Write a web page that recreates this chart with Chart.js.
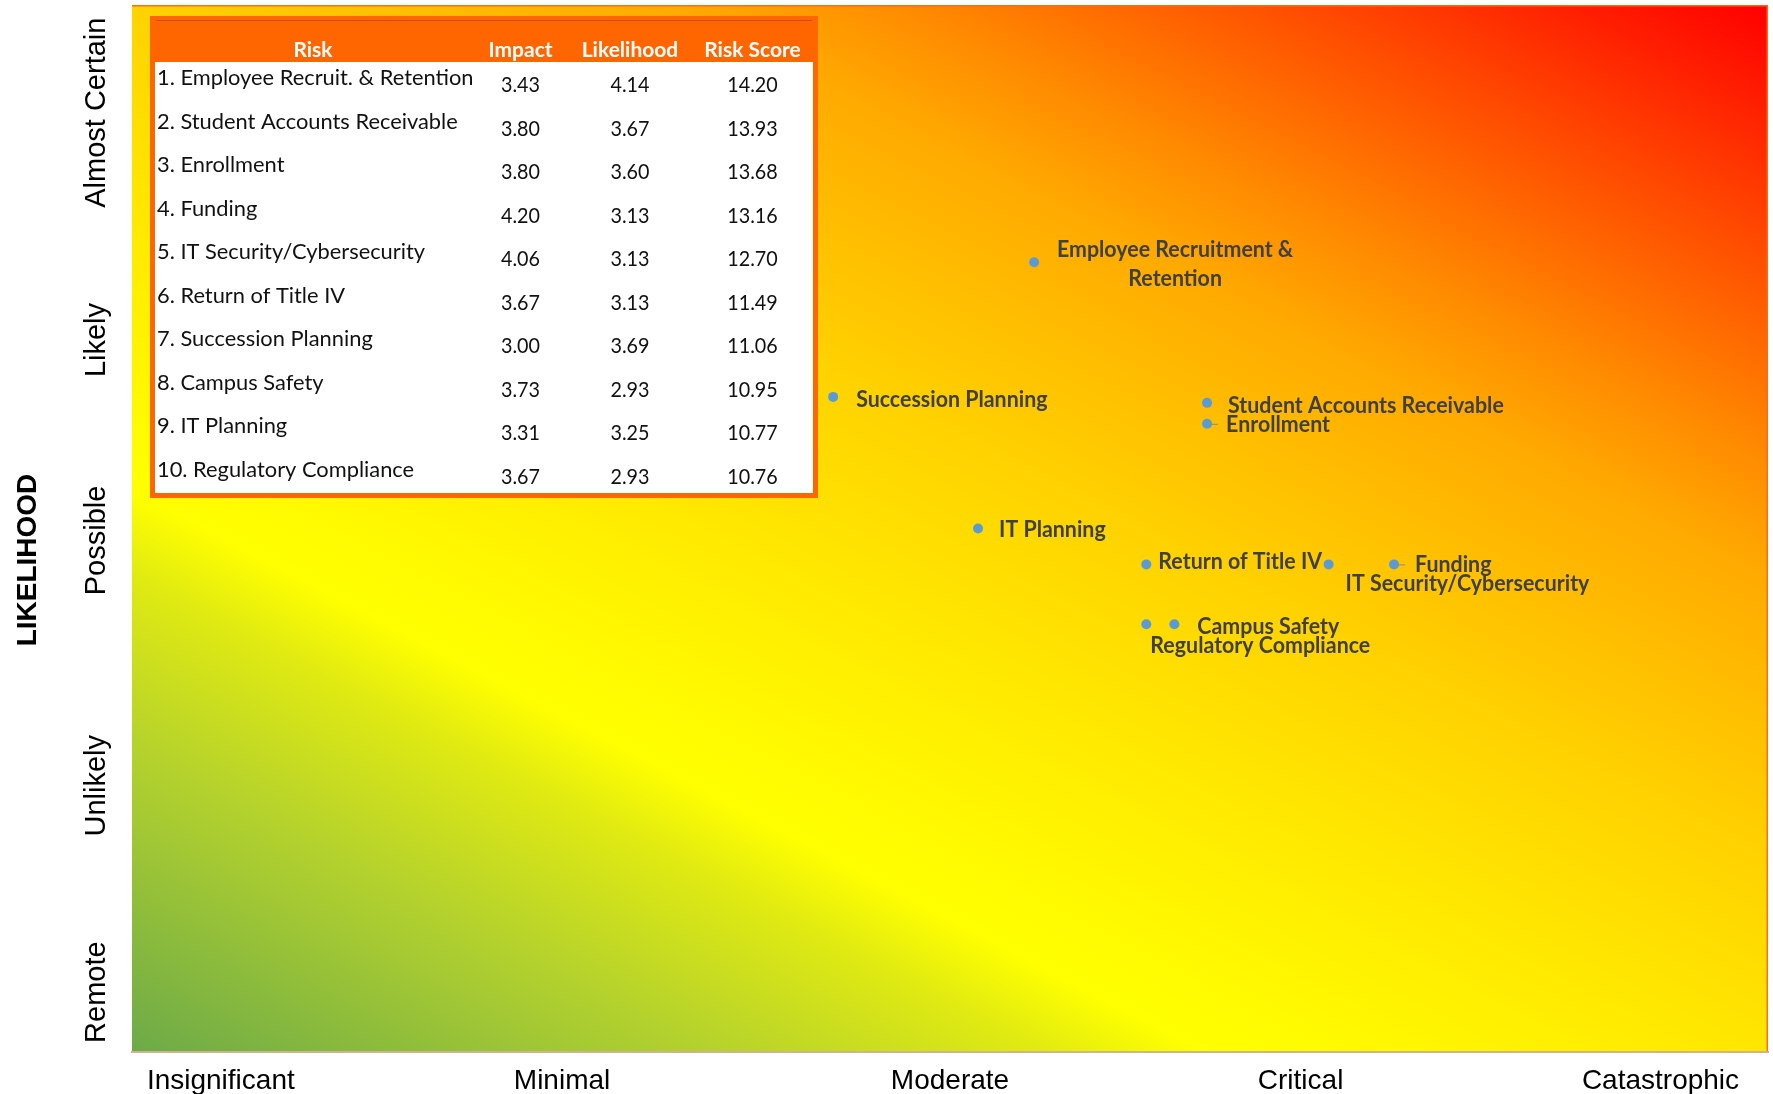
<!DOCTYPE html>
<html><head><meta charset="utf-8">
<script src="https://cdn.jsdelivr.net/npm/chart.js@4"></script>
<style>html,body{margin:0;padding:0;background:#fff;}#wrap{width:1773px;height:1094px;position:relative;}</style>
</head><body><div id="wrap"><canvas id="c" width="1773" height="1094"></canvas></div>
<script>
// ---------- data ----------
const impactTicks = [1.69, 2.42, 3.25, 4.0, 4.77];
const impactTickLabels = ['Insignificant', 'Minimal', 'Moderate', 'Critical', 'Catastrophic'];
const likelihoodTicks = [1.70, 2.39, 3.21, 3.88, 4.64];
const likelihoodTickLabels = ['Remote', 'Unlikely', 'Possible', 'Likely', 'Almost Certain'];
const tableHeaders = ['Risk', 'Impact', 'Likelihood', 'Risk Score'];
const riskNames = ['Employee Recruit. & Retention', 'Student Accounts Receivable', 'Enrollment', 'Funding',
  'IT Security/Cybersecurity', 'Return of Title IV', 'Succession Planning', 'Campus Safety', 'IT Planning',
  'Regulatory Compliance'];
const pointLabels = ['Employee Recruitment &\nRetention', 'Student Accounts Receivable', 'Enrollment', 'Funding',
  'IT Security/Cybersecurity', 'Return of Title IV', 'Succession Planning', 'Campus Safety', 'IT Planning',
  'Regulatory Compliance'];
const impact = [3.43, 3.80, 3.80, 4.20, 4.06, 3.67, 3.00, 3.73, 3.31, 3.67];
const likelihood = [4.14, 3.67, 3.60, 3.13, 3.13, 3.13, 3.69, 2.93, 3.25, 2.93];
const riskScore = [14.20, 13.93, 13.68, 13.16, 12.70, 11.49, 11.06, 10.95, 10.77, 10.76];
const axisMin = 1.5, axisMax = 5;

// ---------- styles ----------
const labelPlacement = [
  {dx: 141, dy: -13, align: 'center'},
  {dx: 21, dy: 3},
  {dx: 19, dy: 1, leader: true},
  {dx: 21, dy: 0, leader: true},
  {dx: 17, dy: 19},
  {dx: 12, dy: -3},
  {dx: 23, dy: 3},
  {dx: 23, dy: 2},
  {dx: 21, dy: 1},
  {dx: 4, dy: 21}
];
const LABEL_FONT = 'bold 23px Lato';
const LABEL_SX = 0.93;
const BODY_FONT = '21px Lato';
const BODY_SX = 1.04;
const NUM_SX = 0.94;
const HEAD_FONT = 'bold 21px Lato';
const HEAD_SX = 1.0;
const ORANGE = '#FF6600';
const gradientStops = [
  [0, 'rgb(108,170,72)'], [0.164, 'rgb(182,211,44)'], [0.25, 'rgb(224,234,18)'],
  [0.295, 'rgb(255,255,0)'], [0.34, 'rgb(255,249,0)'], [0.44, 'rgb(255,232,0)'],
  [0.5, 'rgb(255,220,0)'], [0.55, 'rgb(255,210,0)'], [0.62, 'rgb(255,192,0)'],
  [0.7, 'rgb(255,170,0)'], [0.76, 'rgb(255,140,0)'], [0.82, 'rgb(255,105,0)'],
  [0.9, 'rgb(255,58,0)'], [0.96, 'rgb(255,22,0)'], [1, 'rgb(255,0,0)']
];

function drawScaled(ctx, text, x, y, sx) {
  ctx.save();
  ctx.translate(x, y);
  ctx.scale(sx, 1);
  ctx.fillText(text, 0, 0);
  ctx.restore();
}

const backgroundPlugin = {
  id: 'bgGradient',
  beforeDraw(chart) {
    const {ctx, chartArea: a} = chart;
    ctx.save();
    ctx.translate(a.left, a.bottom);
    ctx.scale(a.right - a.left, -(a.bottom - a.top));
    const g = ctx.createLinearGradient(0, 0, 0.891, 1.089);
    gradientStops.forEach(s => g.addColorStop(s[0], s[1]));
    ctx.fillStyle = g;
    ctx.fillRect(0, 0, 1, 1);
    ctx.restore();
    ctx.save();
    ctx.strokeStyle = 'rgba(255,105,20,0.95)';
    ctx.lineWidth = 1.5;
    ctx.beginPath();
    ctx.moveTo(a.left, a.top + 0.75);
    ctx.lineTo(a.right - 0.75, a.top + 0.75);
    ctx.lineTo(a.right - 0.75, a.bottom);
    ctx.stroke();
    ctx.restore();
  }
};

const labelPlugin = {
  id: 'pointLabels',
  afterDatasetsDraw(chart) {
    const {ctx} = chart;
    const meta = chart.getDatasetMeta(0);
    ctx.save();
    ctx.font = LABEL_FONT;
    ctx.fillStyle = '#404040';
    ctx.textBaseline = 'middle';
    meta.data.forEach((pt, i) => {
      const p = labelPlacement[i];
      const lines = pointLabels[i].split('\n');
      ctx.textAlign = p.align || 'left';
      lines.forEach((ln, k) => drawScaled(ctx, ln, pt.x + p.dx, pt.y + p.dy + k * 29, LABEL_SX));
      if (p.leader) {
        ctx.strokeStyle = '#8a8a8a';
        ctx.lineWidth = 1;
        ctx.beginPath();
        ctx.moveTo(pt.x + 3, pt.y + 0.5);
        ctx.lineTo(pt.x + 11, pt.y + 0.5);
        ctx.stroke();
      }
    });
    ctx.restore();
  }
};

const overlayPlugin = {
  id: 'overlay',
  afterDraw(chart) {
    const {ctx} = chart;
    const ys = chart.scales.y;
    // y tick labels (rotated)
    ctx.save();
    ctx.fillStyle = '#000';
    ctx.font = '29px "Liberation Sans", Arial, sans-serif';
    ctx.textAlign = 'center';
    ctx.textBaseline = 'alphabetic';
    likelihoodTicks.forEach((v, i) => {
      ctx.save();
      ctx.translate(105, ys.getPixelForValue(v));
      ctx.rotate(-Math.PI / 2);
      ctx.fillText(likelihoodTickLabels[i], 0, 0);
      ctx.restore();
    });
    // y axis title
    ctx.font = 'bold 28px "Liberation Sans", Arial, sans-serif';
    ctx.translate(36, 560);
    ctx.rotate(-Math.PI / 2);
    ctx.fillText('LIKELIHOOD', 0, 0);
    ctx.restore();

    // table
    const tx = 150, ty = 16, tw = 668, th = 482;
    ctx.save();
    ctx.fillStyle = '#fff';
    ctx.fillRect(tx, ty, tw, th);
    ctx.fillStyle = ORANGE;
    ctx.fillRect(tx, ty, tw, 46);
    ctx.strokeStyle = ORANGE;
    ctx.lineWidth = 5;
    ctx.strokeRect(tx + 2.5, ty + 2.5, tw - 5, th - 5);
    ctx.strokeStyle = 'rgba(160,60,0,0.55)';
    ctx.lineWidth = 1;
    ctx.beginPath();
    ctx.moveTo(tx + 6, ty + 4.5);
    ctx.lineTo(tx + tw - 6, ty + 4.5);
    ctx.stroke();
    const colX = [313, 520.5, 630, 752.5];
    ctx.fillStyle = '#fff';
    ctx.font = HEAD_FONT;
    ctx.textAlign = 'center';
    ctx.textBaseline = 'alphabetic';
    tableHeaders.forEach((h, i) => drawScaled(ctx, h, colX[i], 56.5, HEAD_SX));
    ctx.fillStyle = '#111';
    ctx.font = BODY_FONT;
    for (let i = 0; i < riskNames.length; i++) {
      const rowY = 85 + i * 43.5;
      ctx.textAlign = 'left';
      drawScaled(ctx, (i + 1) + '. ' + riskNames[i], 157, rowY, BODY_SX);
      ctx.textAlign = 'center';
      drawScaled(ctx, impact[i].toFixed(2), colX[1], rowY + 7.3, NUM_SX);
      drawScaled(ctx, likelihood[i].toFixed(2), colX[2], rowY + 7.3, NUM_SX);
      drawScaled(ctx, riskScore[i].toFixed(2), colX[3], rowY + 7.3, NUM_SX);
    }
    ctx.restore();
  }
};

new Chart(document.getElementById('c'), {
  type: 'scatter',
  data: {
    datasets: [{
      data: impact.map((x, i) => ({x: x, y: likelihood[i]})),
      backgroundColor: '#5B9BD5',
      borderColor: '#5B9BD5',
      borderWidth: 0,
      pointRadius: 5,
      pointHoverRadius: 5
    }]
  },
  options: {
    responsive: false,
    animation: false,
    events: [],
    layout: {padding: {top: 5, right: 3, left: 0, bottom: 0}},
    plugins: {legend: {display: false}, tooltip: {enabled: false}},
    scales: {
      x: {
        type: 'linear', min: axisMin, max: axisMax,
        afterBuildTicks: s => { s.ticks = impactTicks.map(v => ({value: v})); },
        afterFit: s => { s.height = 42; },
        grid: {display: true, drawOnChartArea: false, drawTicks: false, color: 'rgba(0,0,0,0)'},
        border: {display: true, color: 'rgb(205,178,150)', width: 2},
        ticks: {
          autoSkip: false, maxRotation: 0, minRotation: 0, padding: 12,
          color: '#000',
          font: {family: '"Liberation Sans", Arial, sans-serif', size: 28},
          callback: (v, i) => impactTickLabels[i]
        }
      },
      y: {
        type: 'linear', min: axisMin, max: axisMax,
        afterFit: s => { s.width = 132; },
        grid: {display: false},
        border: {display: false},
        ticks: {display: false}
      }
    }
  },
  plugins: [backgroundPlugin, labelPlugin, overlayPlugin]
});
</script>
</body></html>
